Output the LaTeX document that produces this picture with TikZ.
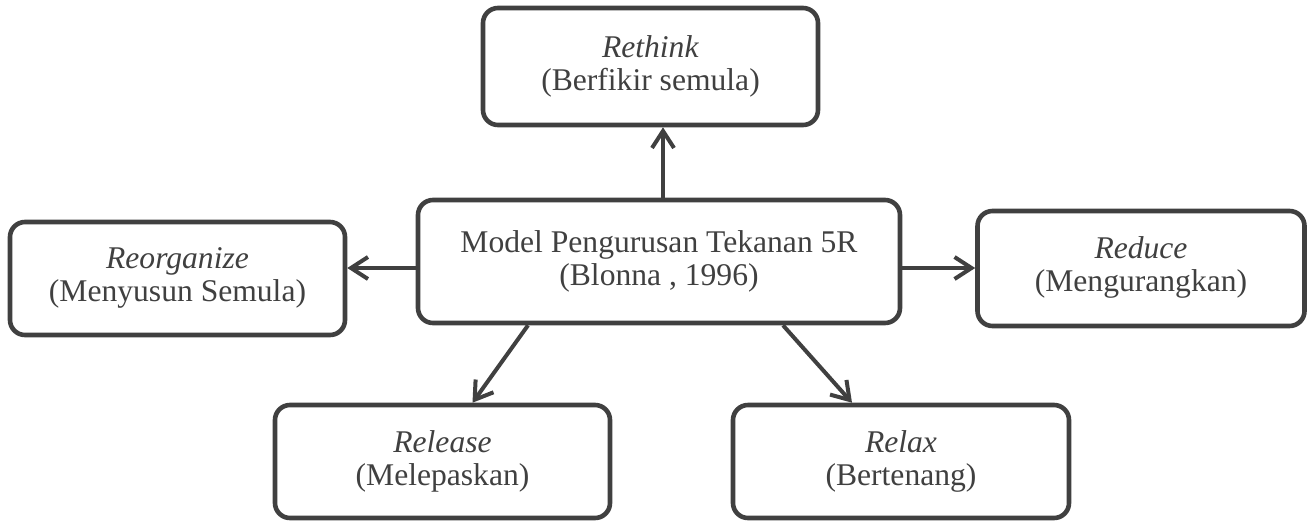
\documentclass[tikz,border=0pt]{standalone}
\usepackage{fontspec}
\setmainfont{Liberation Serif}
\usetikzlibrary{arrows.meta,shadows}
\definecolor{ink}{HTML}{404040}
\tikzset{
  rbox/.style={draw=ink, line width=2.3pt, rounded corners=7.5pt, fill=white, align=center,
    text=ink, font=\fontsize{15.8}{16.5}\selectfont,
    drop shadow={opacity=0.18, shadow xshift=0.8pt, shadow yshift=-0.8pt}},
  arr/.style={draw=ink, line width=2pt, -{Straight Barb[length=8.5pt,width=11pt,line width=2pt]}}
}
\begin{document}
\begin{tikzpicture}[x=0.5pt,y=-0.5pt]
\useasboundingbox (0,0) rectangle (1312,521);
\node[rbox, minimum width=167.5pt, minimum height=58.5pt] (rethink) at (650.5,66.5) {\textit{Rethink}\\(Berfikir semula)};
\node[rbox, minimum width=241pt, minimum height=61.5pt] (center) at (659,261.5) {Model Pengurusan Tekanan 5R\\(Blonna , 1996)};
\node[rbox, minimum width=167.5pt, minimum height=56.5pt] (reorg) at (177.5,278.5) {\raisebox{-2.5pt}{\begin{tabular}{@{}c@{}}\textit{Reorganize}\\(Menyusun Semula)\end{tabular}}};
\node[rbox, minimum width=163.5pt, minimum height=57.5pt] (reduce) at (1141,268.5) {\raisebox{-1.5pt}{\begin{tabular}{@{}c@{}}\textit{Reduce}\\(Mengurangkan)\end{tabular}}};
\node[rbox, minimum width=167.5pt, minimum height=56.5pt] (release) at (442.5,461.5) {\textit{Release}\\(Melepaskan)};
\node[rbox, minimum width=168pt, minimum height=56.5pt] (relax) at (901,461.5) {\textit{Relax}\\(Bertenang)};
\draw[arr] ([xshift=2pt]center.north) -- ([xshift=2pt]center.north |- rethink.south);
\draw[arr] ([yshift=-3.25pt]center.west) -- ([yshift=-3.25pt]center.west -| reorg.east);
\draw[arr] ([yshift=-3.25pt]center.east) -- ([yshift=-3.25pt]center.east -| reduce.west);
\draw[arr] ([xshift=-65.5pt]center.south) -- ([xshift=15pt]release.north);
\draw[arr] ([xshift=62pt]center.south) -- ([xshift=-24.5pt]relax.north);
\end{tikzpicture}
\end{document}
